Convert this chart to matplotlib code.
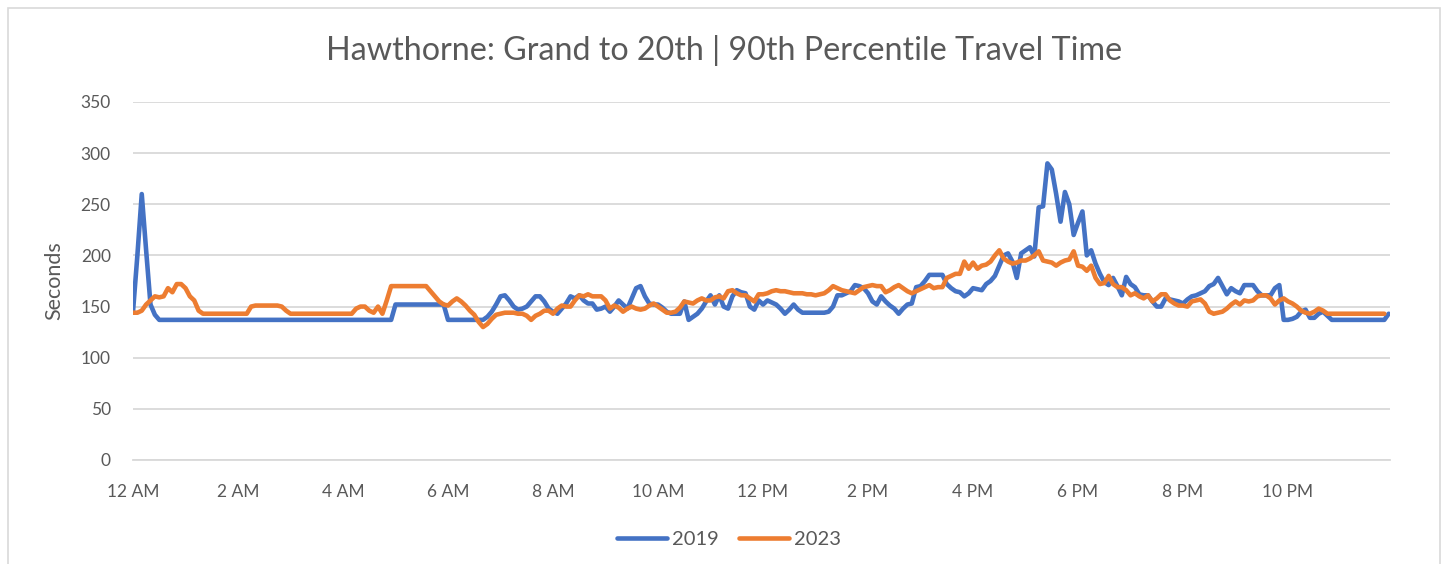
import matplotlib
matplotlib.use("Agg")
import matplotlib.pyplot as plt
from matplotlib.patches import Rectangle

# 5-minute intervals from 12:00 AM (index 0) to 11:55 PM (index 287)
tick_labels = ["12 AM", "2 AM", "4 AM", "6 AM", "8 AM", "10 AM",
               "12 PM", "2 PM", "4 PM", "6 PM", "8 PM", "10 PM"]

y2019 = ([145, 200, 260, 205, 152, 142] + [137] * 54 + [152] * 12 + [137] * 9 +
         [140, 145, 152, 160, 161, 156, 150, 147, 148, 150,
          155, 160, 160, 155, 148, 145, 143, 148, 153, 160,
          158, 161, 156, 153, 153, 147, 148, 150, 145, 150,
          156, 152, 148, 158, 168, 170, 160, 153, 152, 152,
          149, 145, 143, 143, 143, 155, 137, 140, 143, 148,
          155, 161, 152, 161, 150, 148, 160, 166, 164, 163,
          150, 147, 156,
          152, 156, 154, 152, 148, 143, 147, 152, 147, 144,
          144, 144, 144, 144, 144, 145, 150, 161, 161, 163,
          165, 171, 170, 168, 163, 155, 152, 160, 155,
          151, 148, 143, 148, 152, 153, 169, 170, 175, 181,
          181, 181, 181, 172, 168, 165, 164, 160, 163, 168,
          167, 166, 172, 175, 180, 190, 200, 202, 194, 178,
          202, 205, 208, 199, 247, 248, 290, 284, 260, 233,
          262, 250, 220, 232, 243, 200, 205, 192, 182, 174,
          171, 178, 170, 161, 179, 172, 169,
          162, 161, 161, 155, 150, 150, 158, 157, 156, 155,
          153, 157, 160, 161, 163, 165, 170, 172, 178, 170,
          162, 168, 165, 163, 171, 171, 171, 165, 161, 161,
          161, 168, 171, 137, 137, 138, 140, 145, 147, 139,
          139, 143, 145, 141] + [137] * 13 + [143])

y2023 = ([144, 144, 146, 152, 156, 160, 159, 160, 168, 164,
          172, 172, 168, 160, 156, 146] + [143] * 11 +
         [150, 151, 151, 151, 151, 151, 151, 150, 146] + [143] * 15 +
         [148, 150, 150, 146, 144, 150, 143, 156] + [170] * 9 +
         [165, 160, 155, 152,
          151, 155, 158, 155, 151, 146, 142, 135, 130, 133,
          138, 142, 143, 144, 144, 144, 143, 143, 141, 137,
          141, 143, 146, 146, 143, 148, 151, 150, 150, 156,
          161, 160, 162, 160, 160, 160, 156, 148, 151, 149,
          145, 148, 150, 148, 147, 148, 151, 153, 150, 147,
          144, 144, 145, 149, 155, 154, 153, 156, 158, 156,
          156, 159, 160, 158, 165, 166, 163, 161, 161, 158,
          155,
          162, 162, 163, 165, 166, 165, 165, 164, 163, 163,
          163, 162, 162, 161, 162, 163, 166, 170, 168, 166,
          165, 164, 163, 166, 169, 170, 171, 170, 170,
          164, 166, 169, 171, 168, 165, 163, 165, 167, 169,
          171, 168, 169, 169, 178, 180, 182, 182, 194, 187,
          193, 187, 190, 191, 194, 200, 205, 197, 194, 192,
          193, 195, 195, 197, 200, 204, 195, 194, 193, 190,
          193, 195, 196, 204, 190, 189, 185, 190, 178, 172,
          173, 180, 172, 169, 169, 166, 161,
          163, 160, 158, 161, 155, 158, 162, 162, 156, 153,
          151, 151, 150, 155, 156, 157, 153, 145, 143, 144,
          145, 148, 152, 155, 152, 156, 155, 156, 160, 161,
          161, 158, 152, 156, 158, 155, 153, 150, 146, 144,
          143, 145, 148, 146, 143] + [143] * 13)

y_ticks = [0, 50, 100, 150, 200, 250, 300, 350]

plt.rcParams['font.family'] = ['Lato', 'DejaVu Sans']

W, H = 1449, 564
fig = plt.figure(figsize=(W / 100, H / 100), dpi=100)
ax = fig.add_axes([133 / W, 1 - 460 / H, (1390 - 133) / W, (460 - 102) / H])

x = list(range(len(y2019)))
ax.plot(x, y2019, color="#4472C4", lw=3.3, label="2019", solid_joinstyle="round", solid_capstyle="round")
ax.plot(list(range(len(y2023))), y2023, color="#ED7D31", lw=3.3, label="2023", solid_joinstyle="round", solid_capstyle="round")

ax.set_xlim(0, 287.3)
ax.set_ylim(0, 350)
ax.set_yticks(y_ticks)
ax.set_xticks([i * 24 for i in range(len(tick_labels))])
ax.set_xticklabels(tick_labels)
ax.grid(axis="y", color="#D9D9D9", lw=1.3)
ax.set_axisbelow(True)
for s in ["top", "right", "left"]:
    ax.spines[s].set_visible(False)
ax.spines["bottom"].set_color("#D9D9D9")
ax.spines["bottom"].set_linewidth(1.3)
ax.tick_params(axis="both", length=0, colors="#595959", labelsize=12.5)
ax.tick_params(axis="y", pad=16)
ax.tick_params(axis="x", pad=17)

ax.set_ylabel("Seconds", color="#595959", fontsize=15.5, labelpad=12)
fig.text(0.5, 1 - 50 / H, "Hawthorne: Grand to 20th | 90th Percentile Travel Time",
         ha="center", va="center", color="#595959", fontsize=23.2)

leg = fig.legend(loc="center", bbox_to_anchor=(729 / W, 1 - 539 / H), ncol=2,
                 frameon=False, fontsize=14.5, handlelength=2.5, columnspacing=1.0,
                 handletextpad=0.25)
for t in leg.get_texts():
    t.set_color("#595959")
for h in leg.legend_handles:
    h.set_linewidth(3.3)

fig.patches.append(Rectangle((8 / W, -0.05), (1440 - 8) / W, 1.05 - 8 / H,
                             transform=fig.transFigure, fill=False,
                             edgecolor="#D9D9D9", lw=1.2))

fig.savefig("out.png", dpi=100, facecolor="white")
